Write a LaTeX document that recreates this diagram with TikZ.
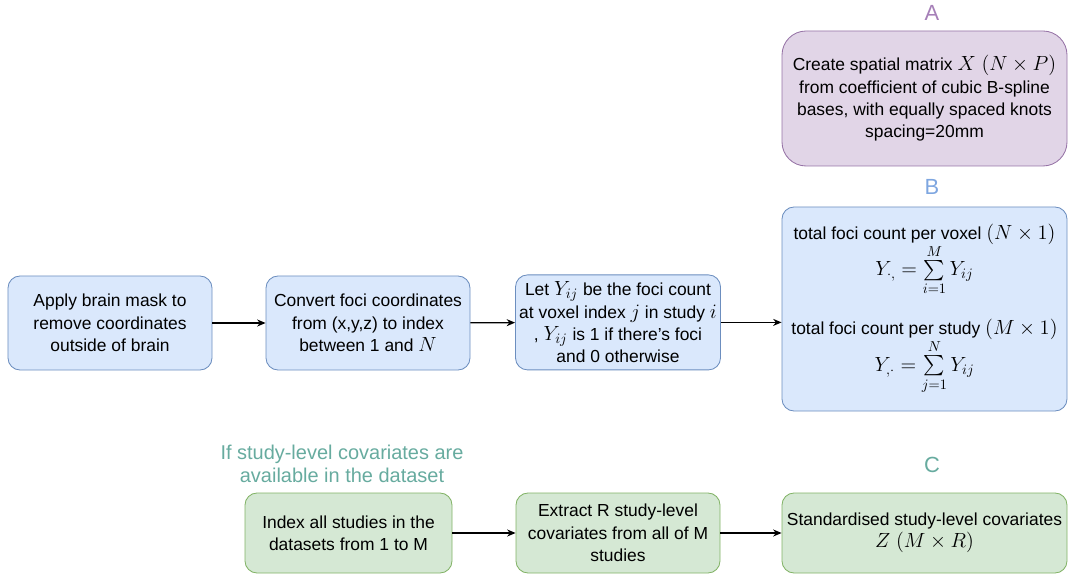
\RequirePackage{fix-cm}
\documentclass[tikz,border=0pt]{standalone}
\usepackage{fontspec}
\setmainfont{Liberation Sans}
\usepackage{amsmath}
\usetikzlibrary{arrows.meta}

\definecolor{bluefill}{HTML}{DAE8FC}
\definecolor{blueline}{HTML}{6C8EBF}
\definecolor{purplefill}{HTML}{E1D5E7}
\definecolor{purpleline}{HTML}{9673A6}
\definecolor{greenfill}{HTML}{D5E8D4}
\definecolor{greenline}{HTML}{82B366}
\definecolor{purplelabel}{HTML}{A680B8}
\definecolor{bluelabel}{HTML}{7EA6E0}
\definecolor{greenlabel}{HTML}{67AB9F}

% math a little larger than the text, as in the drawing
\newcommand{\mbig}[1]{{\fontsize{14.6}{15.9}\selectfont$#1$}}

\begin{document}
\begin{tikzpicture}
\tikzstyle{box} = [rectangle, rounded corners = 0.3cm, line width = 0.6pt, align = center,
  font = \fontsize{12.4}{15.9}\selectfont, inner sep = 2pt]
\tikzstyle{bluebox} = [box, draw = blueline, fill = bluefill]
\tikzstyle{greenbox} = [box, draw = greenline, fill = greenfill]
\tikzstyle{purplebox} = [box, draw = purpleline, fill = purplefill, rounded corners = 0.6cm]
\tikzstyle{tag} = [font = \fontsize{15.6}{18}\selectfont]
\tikzstyle{edge} = [-{Stealth[length=6pt,width=5pt]}, line width = 0.9pt]
\useasboundingbox (0, 0) rectangle (26.75, -14.525);
% -----------------------------------
% Row of preprocessing steps
\node[bluebox, minimum width = 5.1cm, minimum height = 2.35cm] (mask) at (2.75, -8.075)
  {Apply brain mask to\\remove coordinates\\outside of brain};
\node[bluebox, minimum width = 5.1cm, minimum height = 2.35cm] (convert) at (9.2, -8.075)
  {Convert foci coordinates\\from (x,y,z) to index\\between 1 and \mbig{N}};
\node[bluebox, minimum width = 5.125cm, minimum height = 2.375cm] (count) at (15.45, -8.06)
  {Let \mbig{Y_{ij}} be the foci count\\at voxel index \mbig{j} in study \mbig{i}\\, \mbig{Y_{ij}} is 1 if there's foci\\and 0 otherwise};

\draw[edge] (mask)--(convert);
\draw[edge] (convert)--(count);
% -----------------------------------
% A: spatial design matrix
\node[tag, text = purplelabel] (tagA) at (23.3, -0.325) {A};
\node[purplebox, minimum width = 7.125cm, minimum height = 3.375cm] (spline) at (23.1125, -2.4625)
  {Create spatial matrix \mbig{X\ (N \times P)}\\from coefficient of cubic B-spline\\bases, with equally spaced knots\\spacing=20mm};
% -----------------------------------
% B: foci counts
\node[tag, text = bluelabel] (tagB) at (23.3, -4.675) {B};
\node[bluebox, minimum width = 7.125cm, minimum height = 5.1cm] (totals) at (23.1125, -7.725)
  {total foci count per voxel \mbig{(N \times 1)}\\[-1pt]
   \mbig{Y_{\cdot,} = \sum\limits_{i=1}^{M} Y_{ij}}\\[16pt]
   total foci count per study \mbig{(M \times 1)}\\[-1pt]
   \mbig{Y_{,\cdot} = \sum\limits_{j=1}^{N} Y_{ij}}};

\draw[edge] (count)--(totals.west |- count);
% -----------------------------------
% C: study-level covariates
\node[text = greenlabel, align = center, font = \fontsize{14.2}{16.3}\selectfont] (cond) at (8.55, -11.6)
  {If study-level covariates are\\available in the dataset};
\node[greenbox, minimum width = 5.175cm, minimum height = 2cm] (index) at (8.7125, -13.325)
  {Index all studies in the\\datasets from 1 to M};
\node[greenbox, minimum width = 5.1cm, minimum height = 2cm] (extract) at (15.45, -13.325)
  {Extract R study-level\\covariates from all of M\\studies};
\node[tag, text = greenlabel] (tagC) at (23.3, -11.625) {C};
\node[greenbox, minimum width = 7.125cm, minimum height = 2cm] (covar) at (23.1125, -13.325)
  {Standardised study-level covariates\\\mbig{Z\ (M \times R)}};

\draw[edge] (index)--(extract);
\draw[edge] (extract)--(covar);
% -----------------------------------
\end{tikzpicture}
\end{document}
